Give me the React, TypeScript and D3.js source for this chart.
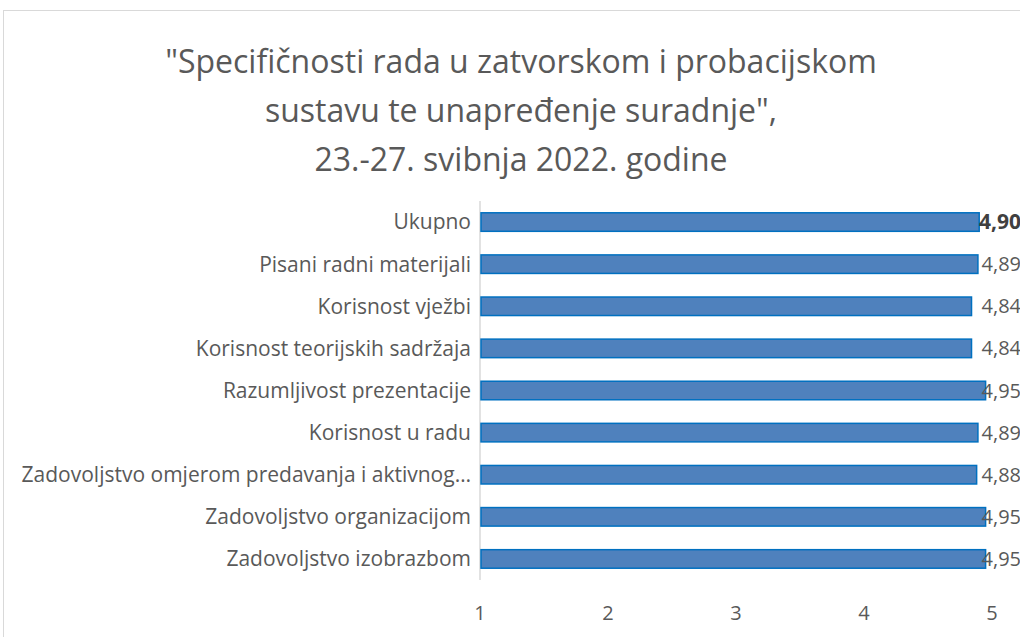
import { useEffect, useRef } from 'react';
import * as d3 from 'd3';

const categories = [
  'Ukupno',
  'Pisani radni materijali',
  'Korisnost vježbi',
  'Korisnost teorijskih sadržaja',
  'Razumljivost prezentacije',
  'Korisnost u radu',
  'Zadovoljstvo omjerom predavanja i aktivnog…',
  'Zadovoljstvo organizacijom',
  'Zadovoljstvo izobrazbom',
];
const values = [4.9, 4.89, 4.84, 4.84, 4.95, 4.89, 4.88, 4.95, 4.95];
const tickValues = [1, 2, 3, 4, 5];
const titleLines = [
  '"Specifičnosti rada u zatvorskom i probacijskom',
  'sustavu te unapređenje suradnje",',
  '23.-27. svibnja 2022. godine',
];

const FONT = '"Open Sans", "Noto Sans", sans-serif';

const App = () => {
  const svgRef = useRef<SVGSVGElement>(null);

  useEffect(() => {
    const svg = d3.select(svgRef.current);
    const width = 1020;
    const height = 637;
    const margin = { top: 201, right: 28, bottom: 57, left: 480 };

    svg.selectAll('*').remove();

    svg.append('rect')
      .attr('x', 3.5)
      .attr('y', 10.5)
      .attr('width', 1040)
      .attr('height', 660)
      .attr('fill', '#fff')
      .attr('stroke', '#d9d9d9');

    svg.append('g')
      .selectAll('text')
      .data(titleLines)
      .join('text')
      .attr('x', 521)
      .attr('y', (d, i) => 73 + i * 49)
      .attr('text-anchor', 'middle')
      .style('font-family', FONT)
      .style('font-size', '32px')
      .style('fill', '#595959')
      .text(d => d);

    const x = d3.scaleLinear()
      .domain([1, 5])
      .range([margin.left, width - margin.right]);

    const y = d3.scaleBand()
      .domain(categories)
      .range([margin.top, height - margin.bottom])
      .paddingInner(0.56)
      .paddingOuter(0.28);

    // vertical axis line
    svg.append('line')
      .attr('x1', x(1))
      .attr('x2', x(1))
      .attr('y1', margin.top)
      .attr('y2', height - margin.bottom)
      .attr('stroke', '#d9d9d9')
      .attr('stroke-width', 1.5);

    // x tick labels
    svg.append('g')
      .selectAll('text')
      .data(tickValues)
      .join('text')
      .attr('x', d => x(d))
      .attr('y', 620)
      .attr('text-anchor', 'middle')
      .style('font-family', FONT)
      .style('font-size', '20px')
      .style('fill', '#595959')
      .text(d => d);

    // category labels
    svg.append('g')
      .selectAll('text')
      .data(categories)
      .join('text')
      .attr('x', x(1) - 9)
      .attr('y', d => y(d)! + y.bandwidth() / 2)
      .attr('dy', '0.35em')
      .attr('text-anchor', 'end')
      .style('font-family', FONT)
      .style('font-size', '21px')
      .style('fill', '#595959')
      .text(d => d);

    // bars
    svg.append('g')
      .selectAll('rect')
      .data(values)
      .join('rect')
      .attr('x', x(1) + 1)
      .attr('y', (d, i) => y(categories[i])!)
      .attr('width', d => x(d) - x(1) - 1)
      .attr('height', y.bandwidth())
      .attr('fill', '#4f81bd')
      .attr('stroke', '#0070c0')
      .attr('stroke-width', 1.5);

    // value labels
    svg.append('g')
      .selectAll('text')
      .data(values)
      .join('text')
      .attr('x', 1021)
      .attr('y', (d, i) => y(categories[i])! + y.bandwidth() / 2)
      .attr('dy', '0.35em')
      .attr('text-anchor', 'end')
      .style('font-family', FONT)
      .style('font-size', (d, i) => (i === 0 ? '21px' : '20px'))
      .style('font-weight', (d, i) => (i === 0 ? 'bold' : 'normal'))
      .style('fill', (d, i) => (i === 0 ? '#404040' : '#595959'))
      .text(d => d.toFixed(2).replace('.', ','));
  }, []);

  return (
    <svg
      ref={svgRef}
      width="1020"
      height="637"
      style={{ position: 'absolute', left: 0, top: 0, background: '#fff' }}
    ></svg>
  );
};

export default App;
